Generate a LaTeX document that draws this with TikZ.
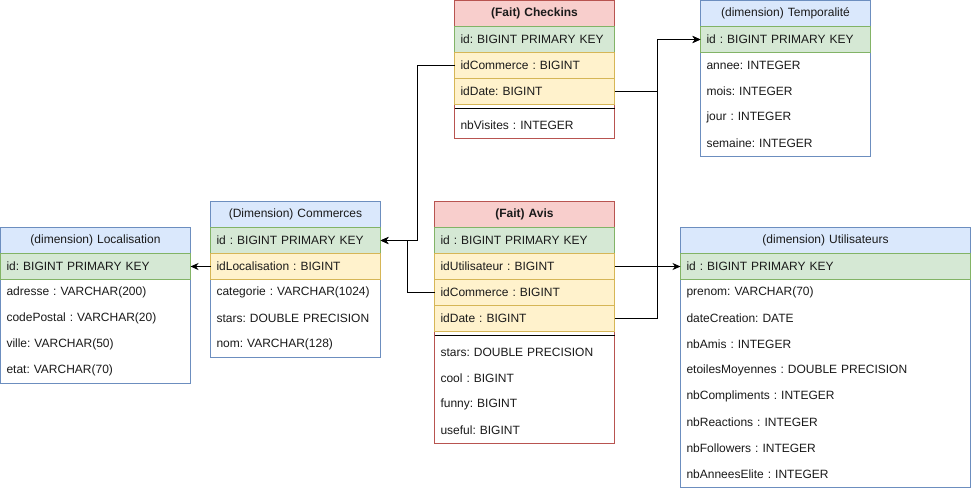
\documentclass[tikz,border=0pt]{standalone}
\usepackage{fontspec}
\setmainfont{Liberation Sans}
\usetikzlibrary{arrows.meta}
\definecolor{redF}{HTML}{F8CECC}
\definecolor{redS}{HTML}{B85450}
\definecolor{blueF}{HTML}{DAE8FC}
\definecolor{blueS}{HTML}{6C8EBF}
\definecolor{greenF}{HTML}{D5E8D4}
\definecolor{greenS}{HTML}{82B366}
\definecolor{yelF}{HTML}{FFF2CC}
\definecolor{yelS}{HTML}{D6B656}
\definecolor{txt}{HTML}{1A1A1A}
\tikzset{
  base/.style={anchor=north west, outer sep=0pt, inner ysep=0pt, inner xsep=6pt,
    line width=1pt, font=\fontsize{12}{14}\selectfont\frenchspacing, text=txt},
  frame/.style={base, fill=white},
  hdr/.style={base, minimum height=26pt, align=center},
  bhdr/.style={hdr, font=\fontsize{12}{14}\selectfont\frenchspacing\bfseries},
  row/.style={base, minimum height=26pt, align=left},
  pk/.style={row, fill=greenF, draw=greenS},
  fk/.style={row, fill=yelF, draw=yelS},
  sepline/.style={line width=1pt, black},
  conn/.style={line width=1pt, black, -{Stealth[length=8pt,width=7pt,inset=2.5pt]}},
  wA/.style={text width=148pt},
  wB/.style={text width=158pt},
  wC/.style={text width=168pt},
  wD/.style={text width=178pt},
  wE/.style={text width=278pt},
}
\begin{document}
\begin{tikzpicture}[x=1pt,y=-1pt]
\useasboundingbox (0,0) rectangle (971,491);

% ---------- (Fait) Checkins ----------
\node[frame, draw=redS, minimum width=160pt, minimum height=138pt] (ck) at (454.5,0.5) {};
\node[bhdr, wA, fill=redF, draw=redS] (ck-h) at (454.5,0.5) {(Fait) Checkins};
\node[pk, wA] (ck-id) at (454.5,26.5) {id: BIGINT PRIMARY KEY};
\node[fk, wA] (ck-idc) at (454.5,52.5) {idCommerce : BIGINT};
\node[fk, wA] (ck-idd) at (454.5,78.5) {idDate: BIGINT};
\draw[sepline] (454.5,108.5) -- (614.5,108.5);
\node[row, wA] (ck-nb) at (454.5,112.5) {nbVisites : INTEGER};

% ---------- (dimension) Temporalité ----------
\node[frame, draw=blueS, minimum width=170pt, minimum height=156pt] (tp) at (700.5,0.5) {};
\node[hdr, wB, fill=blueF, draw=blueS] (tp-h) at (700.5,0.5) {(dimension) Temporalité};
\node[pk, wB] (tp-id) at (700.5,26.5) {id : BIGINT PRIMARY KEY};
\node[row, wB] (tp-a) at (700.5,52.5) {annee: INTEGER};
\node[row, wB] (tp-m) at (700.5,78.5) {mois: INTEGER};
\node[row, wB] (tp-j) at (700.5,104.5) {jour : INTEGER};
\node[row, wB] (tp-s) at (700.5,130.5) {semaine: INTEGER};

% ---------- (dimension) Localisation ----------
\node[frame, draw=blueS, minimum width=190pt, minimum height=156pt] (lo) at (0.5,227.5) {};
\node[hdr, wD, fill=blueF, draw=blueS] (lo-h) at (0.5,227.5) {(dimension) Localisation};
\node[pk, wD] (lo-id) at (0.5,253.5) {id: BIGINT PRIMARY KEY};
\node[row, wD] (lo-ad) at (0.5,279.5) {adresse : VARCHAR(200)};
\node[row, wD] (lo-cp) at (0.5,305.5) {codePostal : VARCHAR(20)};
\node[row, wD] (lo-vi) at (0.5,331.5) {ville: VARCHAR(50)};
\node[row, wD] (lo-et) at (0.5,357.5) {etat: VARCHAR(70)};

% ---------- (Dimension) Commerces ----------
\node[frame, draw=blueS, minimum width=170pt, minimum height=156pt] (cm) at (210.5,201.5) {};
\node[hdr, wB, fill=blueF, draw=blueS] (cm-h) at (210.5,201.5) {(Dimension) Commerces};
\node[pk, wB] (cm-id) at (210.5,227.5) {id : BIGINT PRIMARY KEY};
\node[fk, wB] (cm-idl) at (210.5,253.5) {idLocalisation : BIGINT};
\node[row, wB] (cm-ca) at (210.5,279.5) {categorie : VARCHAR(1024)};
\node[row, wB] (cm-st) at (210.5,305.5) {stars: DOUBLE PRECISION};
\node[row, wB] (cm-no) at (210.5,331.5) {nom: VARCHAR(128)};

% ---------- (Fait) Avis ----------
\node[frame, draw=redS, minimum width=180pt, minimum height=242pt] (av) at (434.5,201.5) {};
\node[bhdr, wC, fill=redF, draw=redS] (av-h) at (434.5,201.5) {(Fait) Avis};
\node[pk, wC] (av-id) at (434.5,227.5) {id : BIGINT PRIMARY KEY};
\node[fk, wC] (av-idu) at (434.5,253.5) {idUtilisateur : BIGINT};
\node[fk, wC] (av-idc) at (434.5,279.5) {idCommerce : BIGINT};
\node[fk, wC] (av-idd) at (434.5,305.5) {idDate : BIGINT};
\draw[sepline] (434.5,335.5) -- (614.5,335.5);
\node[row, wC] (av-st) at (434.5,339.5) {stars: DOUBLE PRECISION};
\node[row, wC] (av-co) at (434.5,365.5) {cool : BIGINT};
\node[row, wC] (av-fu) at (434.5,391.5) {funny: BIGINT};
\node[row, wC] (av-us) at (434.5,417.5) {useful: BIGINT};

% ---------- (dimension) Utilisateurs ----------
\node[frame, draw=blueS, minimum width=290pt, minimum height=260pt] (ut) at (680.5,227.5) {};
\node[hdr, wE, fill=blueF, draw=blueS] (ut-h) at (680.5,227.5) {(dimension) Utilisateurs};
\node[pk, wE] (ut-id) at (680.5,253.5) {id : BIGINT PRIMARY KEY};
\node[row, wE] (ut-pr) at (680.5,279.5) {prenom: VARCHAR(70)};
\node[row, wE] (ut-dc) at (680.5,305.5) {dateCreation: DATE};
\node[row, wE] (ut-na) at (680.5,331.5) {nbAmis : INTEGER};
\node[row, wE] (ut-em) at (680.5,357.5) {etoilesMoyennes : DOUBLE PRECISION};
\node[row, wE] (ut-nc) at (680.5,383.5) {nbCompliments : INTEGER};
\node[row, wE] (ut-nr) at (680.5,409.5) {nbReactions : INTEGER};
\node[row, wE] (ut-nf) at (680.5,435.5) {nbFollowers : INTEGER};
\node[row, wE] (ut-ne) at (680.5,461.5) {nbAnneesElite : INTEGER};

% ---------- connectors ----------
\coordinate (b1) at (417.5,240.5);
\coordinate (b2) at (407.5,240.5);
\coordinate (b3) at (657.5,39.5);
\draw[conn] (ck-idc.west) -| (b1) -- (cm-id.east);
\draw[conn] (av-idc.west) -| (b2) -- (cm-id.east);
\draw[conn] (cm-idl.west) -- (lo-id.east);
\draw[conn] (ck-idd.east) -| (b3) -- (tp-id.west);
\draw[conn] (av-idd.east) -| (b3) -- (tp-id.west);
\draw[conn] (av-idu.east) -- (ut-id.west);
\end{tikzpicture}
\end{document}
